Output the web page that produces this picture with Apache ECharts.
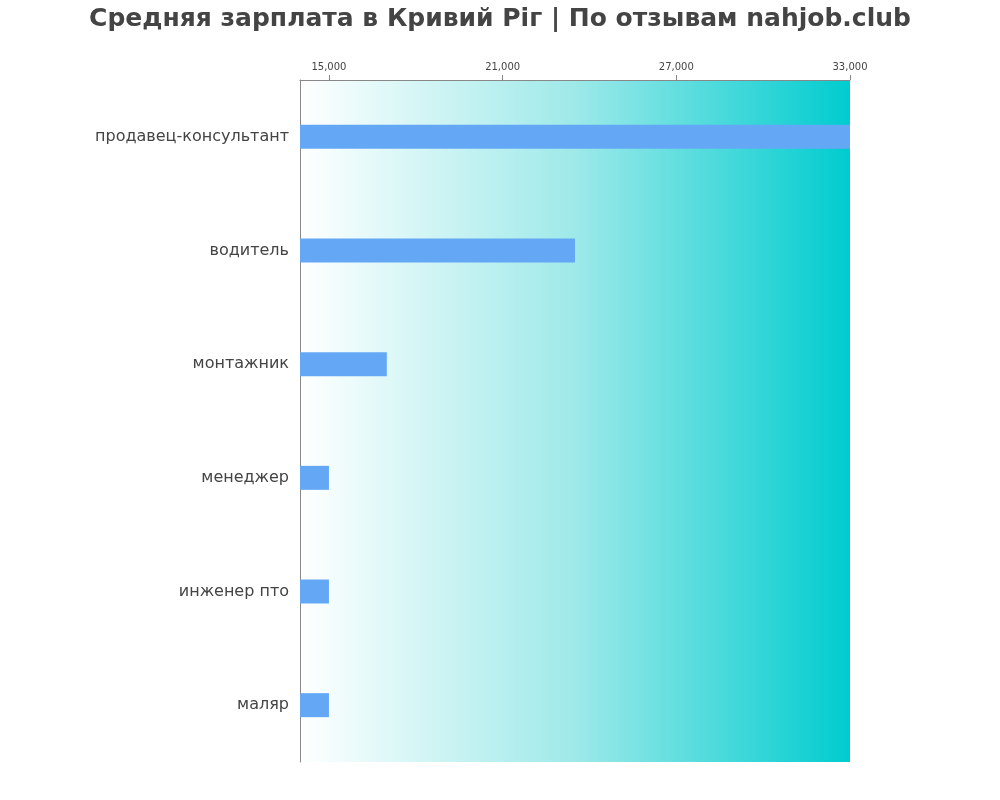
<!DOCTYPE html><html><head><meta charset="utf-8"><script src="https://cdn.jsdelivr.net/npm/echarts@6/dist/echarts.min.js"></script></head><body style="margin:0"><div id="c" style="width:1000px;height:800px"></div><script>
const categories=['продавец-консультант','водитель','монтажник','менеджер','инженер пто','маляр'];
const values=[33000,23500,17000,15000,15000,15000];
const tickValues=[15000,21000,27000,33000];
const ch=echarts.init(document.getElementById('c'));
ch.setOption({
title:{text:'Средняя зарплата в Кривий Ріг | По отзывам nahjob.club',left:'center',top:2,textStyle:{fontFamily:'DejaVu Sans',fontSize:25,fontWeight:'bold',color:'#444'}},
grid:{left:300,right:150,top:80,bottom:38,show:true,borderWidth:0,backgroundColor:{type:'linear',x:0,y:0,x2:1,y2:0,colorStops:[{offset:0,color:'#ffffff'},{offset:0.5,color:'#9ee9e9'},{offset:1,color:'#00cccf'}]}},
xAxis:{type:'value',position:'top',min:14000,max:33000,
axisLine:{show:true,lineStyle:{color:'#888'}},axisTick:{show:true,customValues:tickValues,lineStyle:{color:'#888'}},
axisLabel:{customValues:tickValues,fontSize:10,color:'#444',fontFamily:'DejaVu Sans'},splitLine:{show:false}},
yAxis:{type:'category',inverse:true,data:categories,axisLine:{lineStyle:{color:'#888'}},axisTick:{show:false},
axisLabel:{fontSize:16,color:'#444',fontFamily:'DejaVu Sans',margin:11}},
series:[{type:'bar',data:values,barWidth:24,itemStyle:{color:'#64a8f5'},animation:false}]
});
</script></body></html>
